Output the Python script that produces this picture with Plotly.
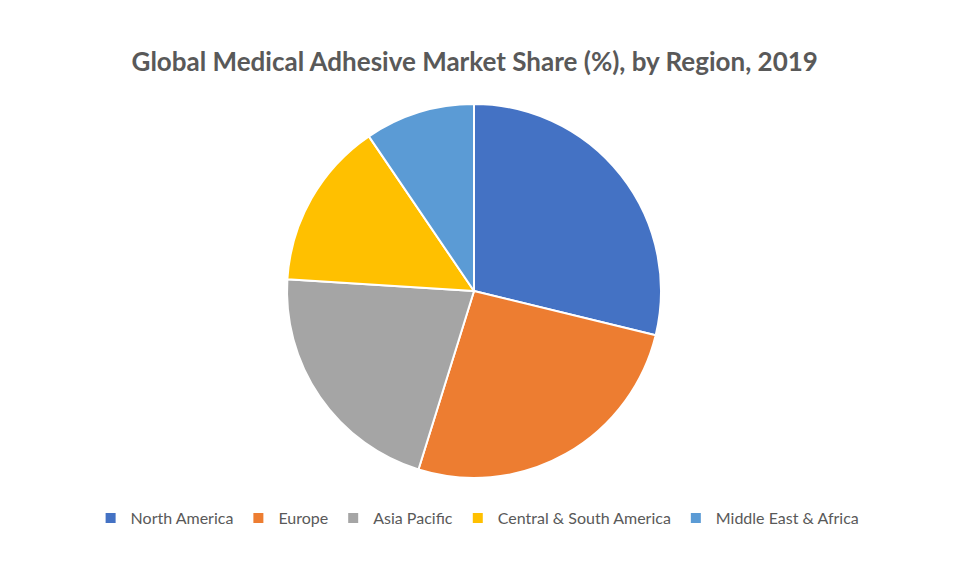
import plotly.graph_objects as go

regions = ["North America", "Europe", "Asia Pacific", "Central & South America", "Middle East & Africa"]
shares = [28.8, 26.0, 21.2, 14.5, 9.5]
colors = ["#4472C4", "#ED7D31", "#A5A5A5", "#FFC000", "#5B9BD5"]

W, H = 961, 561
cx, cy, r = 474, 291, 187

fig = go.Figure(go.Pie(
    labels=regions, values=shares, sort=False, direction="clockwise", rotation=0,
    marker=dict(colors=colors, line=dict(color="white", width=2)),
    textinfo="none", hoverinfo="label+percent",
    domain=dict(x=[(cx - r) / W, (cx + r) / W], y=[1 - (cy + r) / H, 1 - (cy - r) / H]),
))
fig.update_layout(
    width=W, height=H, margin=dict(l=0, r=0, t=0, b=0),
    paper_bgcolor="white", plot_bgcolor="white",
    title=dict(text="<b>Global Medical Adhesive Market Share (%), by Region, 2019</b>",
               x=0.494, xanchor="center", y=1 - 62 / H, yanchor="middle",
               font=dict(family="Lato", size=26, color="#595959")),
    legend=dict(orientation="h", x=0.497, xanchor="center", y=1 - 518 / H, yanchor="middle",
                font=dict(family="Lato", size=16, color="#595959"),
                itemwidth=30, tracegroupgap=0),
    showlegend=True,
)
fig.write_html("out.html")
